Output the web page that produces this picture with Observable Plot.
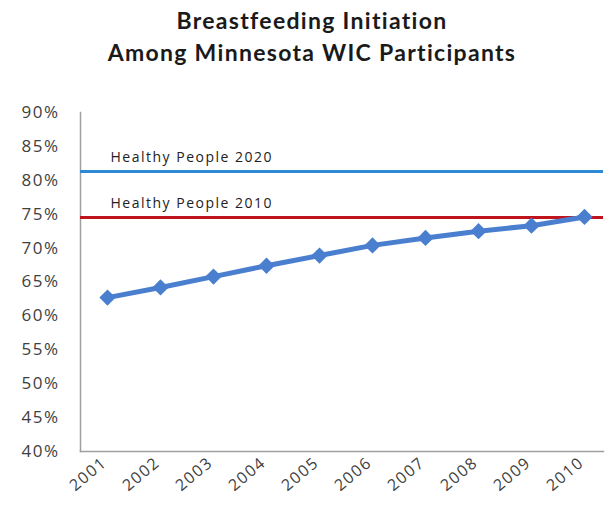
<!DOCTYPE html>
<html>
<head>
<meta charset="utf-8">
<script src="https://cdn.jsdelivr.net/npm/d3@7"></script>
<script src="https://cdn.jsdelivr.net/npm/@observablehq/plot@0.6"></script>
<style>
  body { margin: 0; background: #fff; }
  #title { font-family: Lato, "Open Sans", sans-serif; font-weight: bold; font-size: 23px; letter-spacing: 1.3px; color: #1a1a1a;
           text-align: center; line-height: 32px; height: 76px; padding-top: 4px; padding-left: 11px; box-sizing: content-box; }
  #chart svg text { letter-spacing: 1.5px; }
</style>
</head>
<body>
<div id="title">Breastfeeding Initiation<br>Among Minnesota WIC Participants</div>
<div id="chart"></div>
<script>
const years = ["2001","2002","2003","2004","2005","2006","2007","2008","2009","2010"];
const initiation = [62.7, 64.2, 65.8, 67.4, 68.9, 70.4, 71.5, 72.5, 73.3, 74.6];
const targetNames = ["Healthy People 2020", "Healthy People 2010"];
const targetValues = [81.3, 74.5];
const targetColors = ["#2f8ad6", "#c0141c"];
const yTicks = [40, 45, 50, 55, 60, 65, 70, 75, 80, 85, 90];

const series = years.map((y, i) => ({year: y, value: initiation[i]}));
const targets = targetNames.map((n, i) => ({name: n, value: targetValues[i], color: targetColors[i], year: years[0]}));

const chart = Plot.plot({
  width: 613,
  height: 438,
  marginTop: 32,
  marginBottom: 67,
  marginLeft: 80,
  marginRight: 10,
  style: {fontFamily: "'Open Sans', Lato, sans-serif", fontSize: "15px", color: "#404040", background: "#fff"},
  x: {type: "point", domain: years, padding: 0, insetLeft: 23, insetRight: 16, label: null},
  y: {domain: [40, 90], label: null},
  marks: [
    Plot.frame({anchor: "left", stroke: "#a0a0a0", strokeWidth: 1.5}),
    Plot.frame({anchor: "bottom", stroke: "#a0a0a0", strokeWidth: 1.5}),
    Plot.axisY({ticks: yTicks, tickFormat: d => d + "%", tickSize: 0, tickPadding: 21, fontSize: 17}),
    Plot.axisX({tickSize: 0, tickRotate: -40, tickPadding: 9, fontSize: 16, dx: -3}),
    Plot.ruleY(targets, {y: "value", stroke: "color", strokeWidth: 3}),
    Plot.text(targets, {x: "year", y: "value", text: "name", textAnchor: "start", dx: 3, dy: -14, fill: "#222", fontSize: 14}),
    Plot.line(series, {x: "year", y: "value", stroke: "#4a7fcf", strokeWidth: 5}),
    Plot.dot(series, {x: "year", y: "value", symbol: "square", rotate: 45, r: 6.5, fill: "#4a7fcf"})
  ]
});
document.getElementById("chart").appendChild(chart);
</script>
</body>
</html>
